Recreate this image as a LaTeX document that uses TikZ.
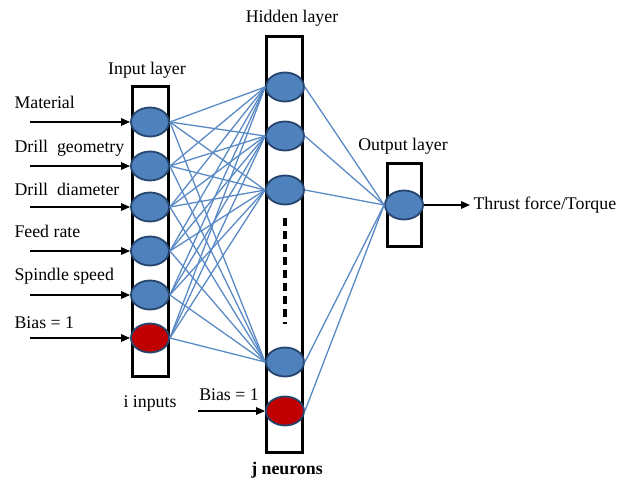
\documentclass[tikz,border=0pt]{standalone}
\usepackage{xcolor}
\usepackage{fontspec}
\setmainfont{Liberation Serif}
\usepackage{tikz}
\usetikzlibrary{arrows.meta, positioning, shapes}
\definecolor{neuronblue}{HTML}{4F81BD}
\definecolor{neuronedge}{HTML}{26456E}
\definecolor{biasred}{HTML}{C00000}
\definecolor{linkblue}{HTML}{5A8AC6}

\begin{document}
\begin{tikzpicture}[x=1pt, y=-1pt, font=\fontsize{17.8}{20}\selectfont,
    neuron/.style={ellipse, draw=neuronedge, line width=1.8pt, fill=neuronblue, minimum width=38pt, minimum height=29pt, inner sep=0pt},
    bias/.style={neuron, fill=biasred},
    layerbox/.style={rectangle, draw=black, line width=2.8pt, fill=white, minimum width=36pt, inner sep=0pt},
    link/.style={linkblue, line width=1.3pt},
    feed/.style={-{Triangle[length=9pt,width=7.5pt]}, black, line width=1.5pt}]
    \useasboundingbox (0,0) rectangle (628,481);

    % layer boxes
    \node[layerbox, minimum height=290pt] (inbox) at (150.5,231.5) {};
    \node[layerbox, minimum height=416pt] (hidbox) at (284.5,244.5) {};
    \node[layerbox, minimum height=83pt, minimum width=34pt] (outbox) at (404.5,205) {};

    \node (inlabel) at (147,70) {Input layer};
    \node (hidlabel) at (292,18) {Hidden layer};
    \node (outlabel) at (403,146) {Output layer};
    \node (icount) at (150,403) {i inputs};
    \node (jcount) at (287,470) {\textbf{j neurons}};

    % neurons
    \foreach \n/\y in {1/122, 2/166, 3/207, 4/251, 5/295} {
        \node[neuron] (in\n) at (150,\y) {};
    }
    \node[bias] (in6) at (150,338) {};
    \foreach \n/\y in {1/87, 2/136, 3/190, 4/362} {
        \node[neuron] (hid\n) at (285,\y) {};
    }
    \node[bias] (hid5) at (285,411) {};
    \node[neuron] (out) at (404,205) {};

    % connections
    \foreach \i in {1,...,6} {
        \foreach \j in {1,...,4} {
            \draw[link] (in\i.east) -- (hid\j.west);
        }
    }
    \foreach \j in {1,...,5} {
        \draw[link] (hid\j.east) -- (out.west);
    }

    \coordinate (dotstop) at (285,218);
    \coordinate (dotsbot) at (285,324);
    \draw[black, line width=3.5pt, dash pattern=on 8pt off 5pt] (dotstop) -- (dotsbot);

    % inputs
    \foreach \n/\y/\label in {1/102/Material, 2/148/Drill\ \ geometry, 3/189/Drill\ \ diameter, 4/231/Feed rate, 5/276/Spindle speed, 6/323/Bias = 1} {
        \node[anchor=west] (inname\n) at (11,\y) {\label};
        \coordinate (instart\n) at (30,0 |- in\n);
        \draw[feed] (instart\n) -- (in\n.west);
    }

    \node (hidbias) at (229,395) {Bias = 1};
    \coordinate (hidstart) at (198,0 |- hid5);
    \draw[feed] (hidstart) -- (hid5.west);

    \node[anchor=west] (result) at (470,205) {Thrust force/Torque};
    \draw[feed] (out.east) -- (result.west);
\end{tikzpicture}
\end{document}
